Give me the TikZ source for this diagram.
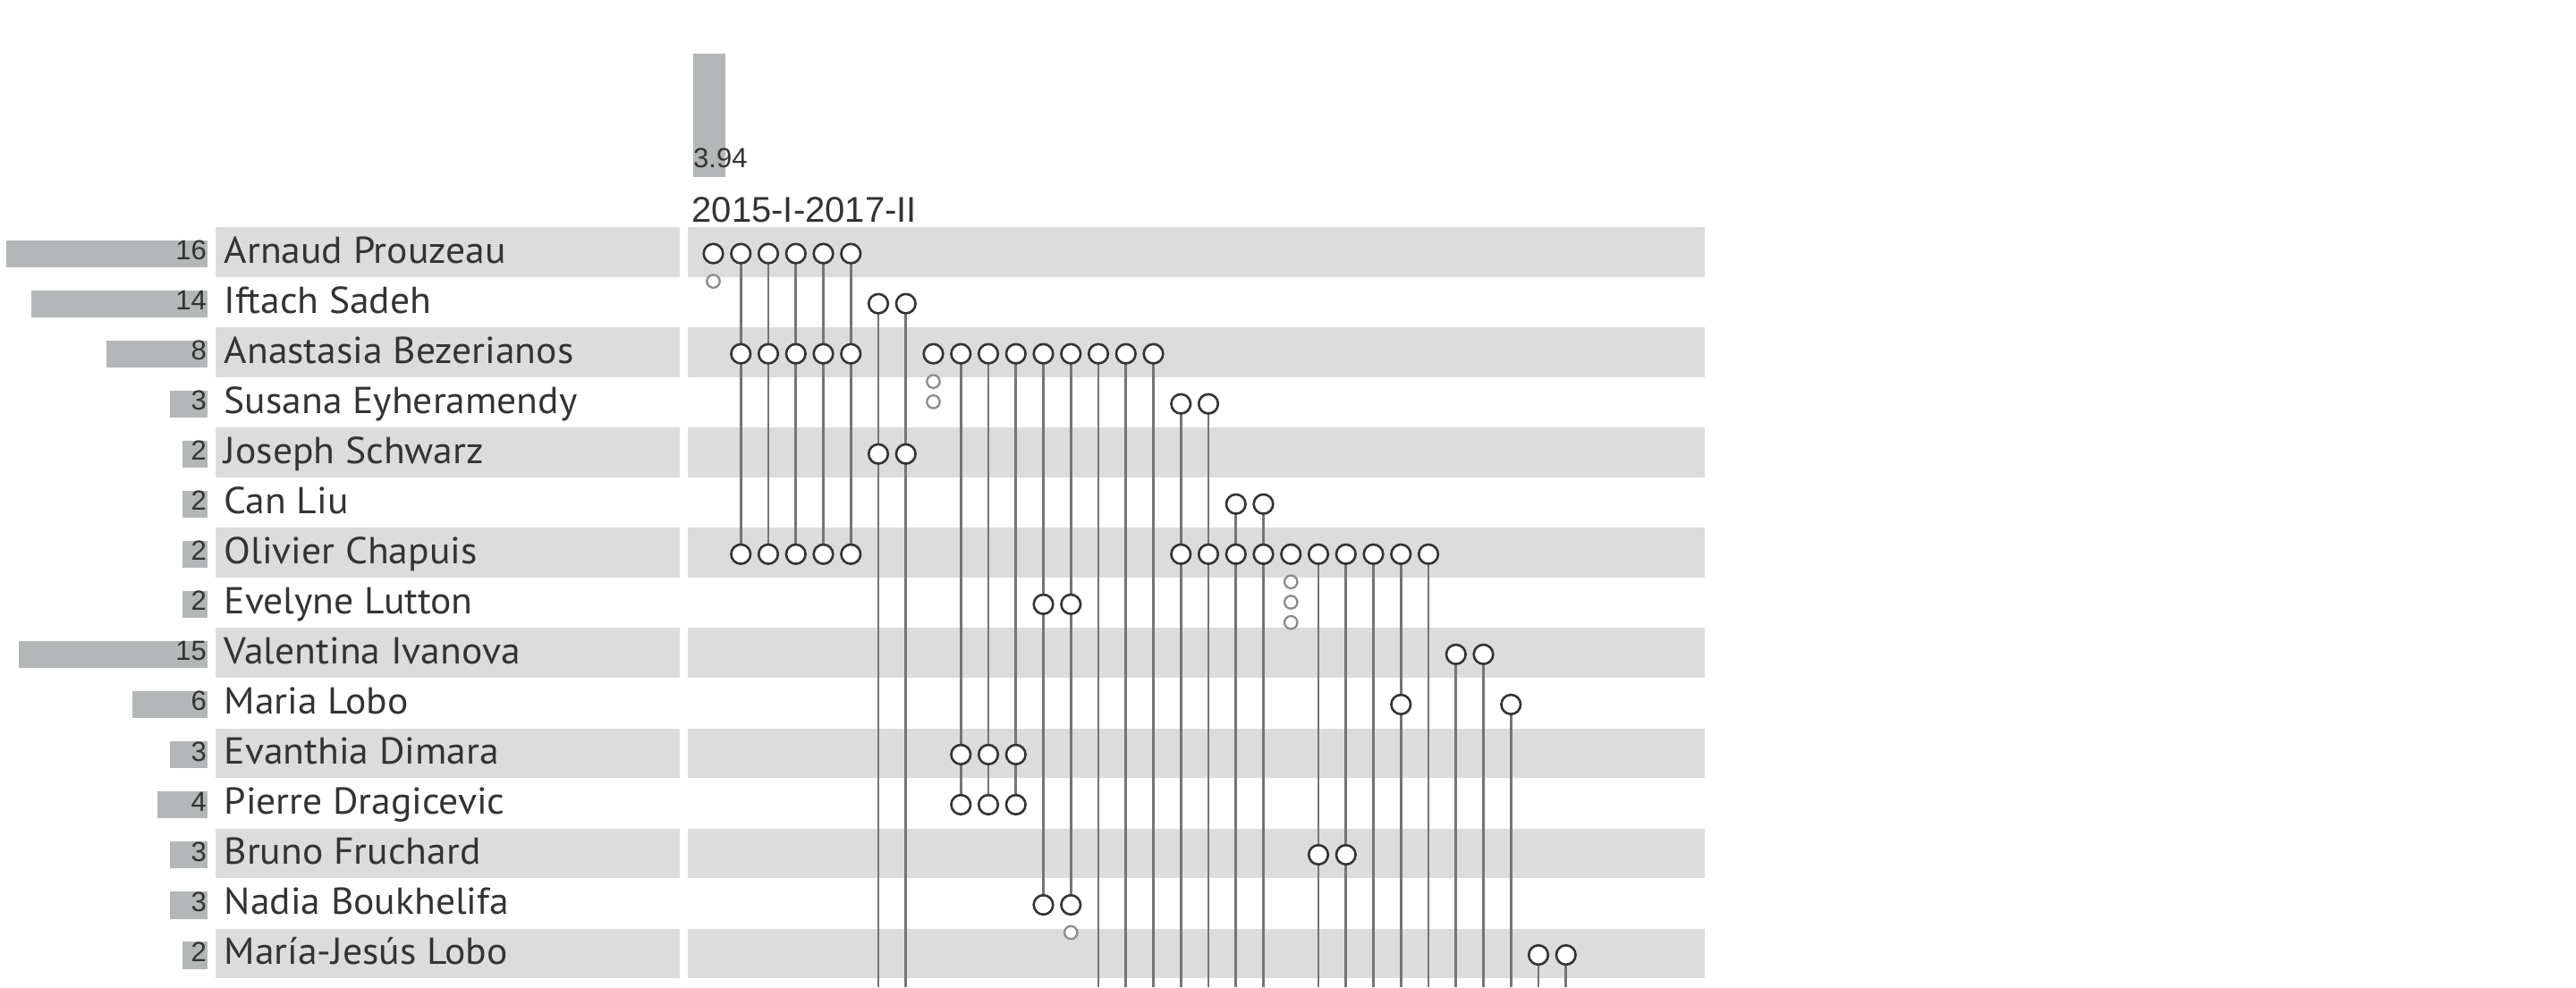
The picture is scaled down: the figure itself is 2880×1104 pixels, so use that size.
\documentclass[tikz,border=0pt]{standalone}
\usepackage{fontspec}
\setmainfont{Liberation Sans}
\newfontfamily\ptsfam[FakeStretch=1.04]{PT Sans}
\newcommand\numfnt{\fontsize{31}{31}\selectfont}
\newcommand\hdrfnt{\fontsize{40}{40}\selectfont}
\newcommand\namefnt{\ptsfam\fontsize{41.9}{42}\selectfont}
\definecolor{txt}{HTML}{333333}
\definecolor{band}{HTML}{DCDCDC}
\definecolor{barc}{HTML}{B4B7B8}
\definecolor{linec}{HTML}{757575}
\definecolor{smallc}{HTML}{8C8C8C}
\pgfdeclarelayer{bg}
\pgfdeclarelayer{lines}
\pgfsetlayers{bg,lines,main}
\begin{document}
\begin{tikzpicture}[x=1pt,y=-1pt,
  bandbox/.style={fill=band,draw=none},
  barbox/.style={fill=barc,draw=none},
  numlbl/.style={font=\numfnt,text=txt,anchor=base east,inner sep=0pt},
  namelbl/.style={font=\namefnt,text=txt,anchor=base west,inner sep=0pt},
  dot/.style={circle,draw=txt,fill=white,line width=2.6pt,minimum size=21.6pt,inner sep=0pt},
  smalldot/.style={circle,draw=smallc,fill=white,line width=2.3pt,minimum size=14.4pt,inner sep=0pt},
  link/.style={draw=linec,line width=2.7pt}]
\useasboundingbox (0,0) rectangle (2880,1104);
% rows
\foreach \r/\n/\name in {0/16/Arnaud Prouzeau,1/14/Iftach Sadeh,2/8/Anastasia Bezerianos,
  3/3/Susana Eyheramendy,4/2/Joseph Schwarz,5/2/Can Liu,6/2/Olivier Chapuis,
  7/2/Evelyne Lutton,8/15/Valentina Ivanova,9/6/Maria Lobo,10/3/Evanthia Dimara,
  11/4/Pierre Dragicevic,12/3/Bruno Fruchard,13/3/Nadia Boukhelifa,14/2/María-Jesús Lobo}{
  \pgfmathsetmacro\yr{283.6+56.03*\r}
  \pgfmathsetmacro\xl{231.7-14.03*\n}
  \ifodd\r\else
    \begin{pgfonlayer}{bg}
      \path[bandbox] (240.5,\yr-29.4) rectangle (760,\yr+26);
      \path[bandbox] (768.5,\yr-29.4) rectangle (1905.5,\yr+26);
    \end{pgfonlayer}
  \fi
  \path[barbox] (\xl,\yr-14.8) rectangle (231.7,\yr+15.5);
  \node[numlbl] (num-\r) at (231,\yr+7.1) {\n};
  \node[namelbl] (name-\r) at (250.5,\yr+10.7) {\name};
}
% header
\path[barbox] (775,60) rectangle (811,197.7);
\node[font=\numfnt,text=txt,anchor=base west,inner sep=0pt] (val) at (775,187.7) {3.94};
\node[font=\hdrfnt,text=txt,anchor=base west,inner sep=0pt] (period) at (773.5,248.3) {2015-I-2017-II};
% papers: k/first/last/rows/continue/small
\foreach \k/\first/\last/\rows/\cont/\small in {
  0/0/0/{0}/0/1,
  1/0/6/{0,2,6}/0/0, 2/0/6/{0,2,6}/0/0, 3/0/6/{0,2,6}/0/0, 4/0/6/{0,2,6}/0/0, 5/0/6/{0,2,6}/0/0,
  6/1/4/{1,4}/1/0, 7/1/4/{1,4}/1/0,
  8/2/2/{2}/0/2,
  9/2/11/{2,10,11}/0/0, 10/2/11/{2,10,11}/0/0, 11/2/11/{2,10,11}/0/0,
  12/2/13/{2,7,13}/0/0, 13/2/13/{2,7,13}/0/1,
  14/2/2/{2}/1/0, 15/2/2/{2}/1/0, 16/2/2/{2}/1/0,
  17/3/6/{3,6}/1/0, 18/3/6/{3,6}/1/0,
  19/5/6/{5,6}/1/0, 20/5/6/{5,6}/1/0,
  21/6/6/{6}/0/3,
  22/6/12/{6,12}/1/0, 23/6/12/{6,12}/1/0,
  24/6/6/{6}/1/0,
  25/6/9/{6,9}/1/0,
  26/6/6/{6}/1/0,
  27/8/8/{8}/1/0, 28/8/8/{8}/1/0,
  29/9/9/{9}/1/0,
  30/14/14/{14}/1/0, 31/14/14/{14}/1/0}{
  \pgfmathsetmacro\xk{797.5+30.75*\k}
  \foreach \r in \rows {
    \pgfmathsetmacro\yr{283.6+56.03*\r}
    \node[dot] (c-\k-\r) at (\xk,\yr) {};
  }
  \begin{pgfonlayer}{lines}
  \ifnum\cont=1
    \coordinate (end-\k) at (\xk,1104);
    \draw[link] (c-\k-\first.center) -- (end-\k);
  \else
    \ifnum\first=\last\else
      \draw[link] (c-\k-\first.center) -- (c-\k-\last.center);
    \fi
  \fi
  \end{pgfonlayer}
  \ifnum\small>0
    \foreach \s in {1,...,\small}{
      \pgfmathsetmacro\ys{283.6+56.03*\last+31+22.7*(\s-1)}
      \node[smalldot] (s-\k-\s) at (\xk,\ys) {};
    }
  \fi
}
\end{tikzpicture}
\end{document}
